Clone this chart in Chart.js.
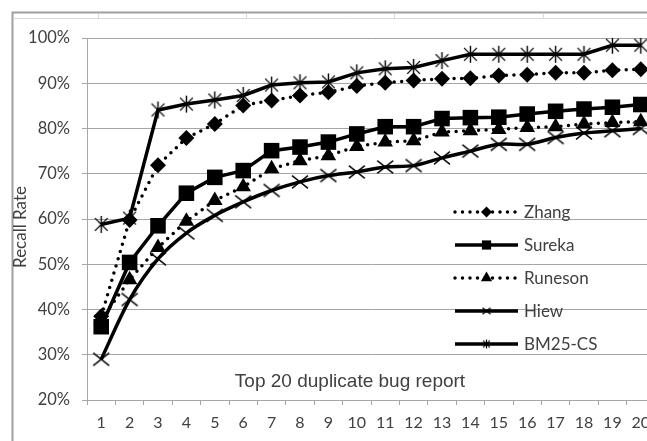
<!DOCTYPE html>
<html>
<head>
<meta charset="utf-8">
<script src="https://cdn.jsdelivr.net/npm/chart.js@4/dist/chart.umd.min.js"></script>
<style>
html,body{margin:0;padding:0;background:#fff;overflow:hidden;width:647px;height:441px;}
canvas{display:block;position:absolute;left:0;top:0;}
</style>
</head>
<body>
<canvas id="c" width="680" height="441"></canvas>
<script>
// ---- data ----
const categories = ['1','2','3','4','5','6','7','8','9','10','11','12','13','14','15','16','17','18','19','20'];
const zhang   = [38.5, 59.8, 71.9, 77.9, 81.0, 85.1, 86.2, 87.3, 88.0, 89.4, 90.1, 90.6, 91.0, 91.1, 91.7, 91.9, 92.3, 92.3, 92.9, 93.1];
const sureka  = [36.2, 50.4, 58.5, 65.7, 69.2, 70.7, 75.1, 75.9, 77.0, 78.8, 80.4, 80.4, 82.2, 82.4, 82.5, 83.2, 83.8, 84.3, 84.7, 85.3];
const runeson = [37.8, 46.6, 53.7, 59.5, 64.1, 67.1, 71.1, 72.9, 74.0, 76.0, 77.0, 77.3, 79.2, 79.5, 79.8, 80.2, 80.4, 81.0, 81.3, 81.5];
const hiew    = [29.0, 42.2, 51.2, 56.9, 60.8, 63.8, 66.3, 68.2, 69.6, 70.4, 71.5, 71.8, 73.5, 75.0, 76.5, 76.5, 78.0, 79.0, 79.5, 80.0];
const bm25cs  = [58.8, 60.2, 84.1, 85.4, 86.3, 87.3, 89.6, 90.1, 90.3, 92.3, 93.2, 93.5, 95.0, 96.4, 96.4, 96.4, 96.4, 96.4, 98.4, 98.4];
const seriesNames = ['Zhang','Sureka','Runeson','Hiew','BM25-CS'];
const yTicks = [20,30,40,50,60,70,80,90,100];
const xAxisNote = 'Top 20 duplicate bug report';
const yAxisTitle = 'Recall Rate';

// ---- marker images ----
function asterisk(size, lw){
  const c = document.createElement('canvas');
  c.width = size; c.height = size;
  const g = c.getContext('2d');
  const m = size/2, r = size/2 - 1;
  g.strokeStyle = '#000'; g.lineWidth = lw; g.lineCap='butt';
  g.beginPath();
  g.moveTo(m, m-r); g.lineTo(m, m+r);
  const d = r*0.75;
  g.moveTo(m-d, m-d); g.lineTo(m+d, m+d);
  g.moveTo(m+d, m-d); g.lineTo(m-d, m+d);
  g.stroke();
  return c;
}
function xmark(size, lw){
  const c = document.createElement('canvas');
  c.width = size; c.height = size;
  const g = c.getContext('2d');
  const m = size/2, d = size/2 - 1;
  g.strokeStyle = '#000'; g.lineWidth = lw;
  g.beginPath();
  g.moveTo(m-d, m-d*0.8); g.lineTo(m+d, m+d*0.8);
  g.moveTo(m+d, m-d*0.8); g.lineTo(m-d, m+d*0.8);
  g.stroke();
  return c;
}
const starImg = asterisk(19, 1.4);
const starImgSmall = asterisk(11, 1.2);
const xImg = xmark(18, 1.4);
const xImgSmall = xmark(10, 1.2);

const dotted = [0, 7.5];
const datasets = [
  {label: seriesNames[0], data: zhang, borderColor:'#000', backgroundColor:'#000', borderWidth:3.5, borderDash:dotted, borderCapStyle:'round',
   pointStyle:'rectRot', pointRadius:8, pointBorderWidth:0, _legend:{style:'rectRot', r:5.5}},
  {label: seriesNames[1], data: sureka, borderColor:'#000', backgroundColor:'#000', borderWidth:3.5,
   pointStyle:'rect', pointRadius:11, pointBorderWidth:0, _legend:{style:'rect', r:6.5}},
  {label: seriesNames[2], data: runeson, borderColor:'#000', backgroundColor:'#000', borderWidth:3.5, borderDash:dotted, borderCapStyle:'round',
   pointStyle:'triangle', pointRadius:9, pointBorderWidth:0, _legend:{style:'triangle', r:6.5}},
  {label: seriesNames[3], data: hiew, borderColor:'#000', backgroundColor:'#000', borderWidth:3.5, tension:0.3,
   pointStyle:xImg, pointRadius:9, _legend:{style:xImgSmall, r:5}},
  {label: seriesNames[4], data: bm25cs, borderColor:'#000', backgroundColor:'#000', borderWidth:3.5,
   pointStyle:starImg, pointRadius:9, _legend:{style:starImgSmall, r:5}}
];

const gridCol = '#a6a6a6';
const textCol = '#404040';

const decor = {
  id:'decor',
  beforeDraw(chart){
    const ctx = chart.ctx;
    ctx.save();
    ctx.fillStyle = '#fff';
    ctx.fillRect(0,0,chart.width,chart.height);
    ctx.strokeStyle = '#a0a0a0'; ctx.lineWidth = 2;
    ctx.beginPath();
    ctx.moveTo(12.5, chart.height+2); ctx.lineTo(12.5, 12.5); ctx.lineTo(chart.width+2, 12.5);
    ctx.stroke();
    ctx.strokeStyle = '#d8d8d8'; ctx.lineWidth = 1;
    ctx.beginPath();
    ctx.moveTo(13, 18.5); ctx.lineTo(chart.width, 18.5);
    [98.5, 246.5, 394.5, 543.5].forEach(x=>{ctx.moveTo(x,13.5); ctx.lineTo(x,18.5);});
    ctx.stroke();
    ctx.restore();
  },
  afterDraw(chart){
    const ctx = chart.ctx;
    ctx.save();
    // y axis title
    ctx.save();
    ctx.translate(21, 227);
    ctx.rotate(-Math.PI/2);
    ctx.fillStyle = textCol;
    ctx.font = '17px Lato, sans-serif';
    ctx.textAlign = 'center'; ctx.textBaseline = 'middle';
    ctx.fillText(yAxisTitle, 0, 0);
    ctx.restore();
    // annotation text inside plot
    ctx.fillStyle = textCol;
    ctx.font = '19px "Liberation Sans", Arial, sans-serif';
    ctx.textAlign = 'center'; ctx.textBaseline = 'alphabetic';
    ctx.fillText(xAxisNote, 350, 387);
    // legend inside plot
    const x0 = 455, x1 = 518, y0 = 212, step = 33;
    chart.data.datasets.forEach((ds, i) => {
      const y = y0 + i*step;
      ctx.save();
      ctx.strokeStyle = ds.borderColor;
      ctx.lineWidth = ds.borderWidth;
      ctx.lineCap = ds.borderCapStyle || 'butt';
      ctx.setLineDash(ds.borderDash || []);
      ctx.beginPath(); ctx.moveTo(x0, y); ctx.lineTo(x1, y); ctx.stroke();
      ctx.restore();
      ctx.save();
      ctx.fillStyle = '#000'; ctx.strokeStyle = '#000'; ctx.lineWidth = 1;
      Chart.helpers.drawPoint(ctx, {pointStyle: ds._legend.style, radius: ds._legend.r, rotation: 0, borderWidth: 0}, (x0+x1)/2, y);
      ctx.restore();
      ctx.fillStyle = textCol;
      ctx.font = '17px Lato, sans-serif';
      ctx.textAlign = 'left'; ctx.textBaseline = 'middle';
      ctx.fillText(ds.label, 524, y+1);
    });
    ctx.restore();
  }
};

new Chart(document.getElementById('c'), {
  type:'line',
  data:{labels:categories, datasets:datasets},
  options:{
    responsive:false, animation:false, devicePixelRatio:1,
    layout:{padding:{left:0, top:38, right:25, bottom:0}},
    plugins:{legend:{display:false}, tooltip:{enabled:false}, title:{display:false}},
    scales:{
      x:{
        offset:true,
        grid:{offset:true, drawOnChartArea:false, drawTicks:true, tickLength:5, color:gridCol, lineWidth:1},
        border:{display:true, color:gridCol, width:1},
        ticks:{color:textCol, font:{family:'Lato', size:16}, padding:8, maxRotation:0, autoSkip:false},
        afterFit(s){ s.height = 41; }
      },
      y:{
        min:20, max:100,
        afterBuildTicks(s){ s.ticks = yTicks.map(v=>({value:v})); },
        grid:{color:gridCol, lineWidth:1, tickLength:5},
        border:{display:true, color:gridCol, width:1},
        ticks:{color:textCol, font:{family:'Lato', size:16.5}, padding:12, callback:v=>v+'%'},
        title:{display:false},
        afterFit(s){ s.width = 87; }
      }
    }
  },
  plugins:[decor]
});
</script>
</body>
</html>
